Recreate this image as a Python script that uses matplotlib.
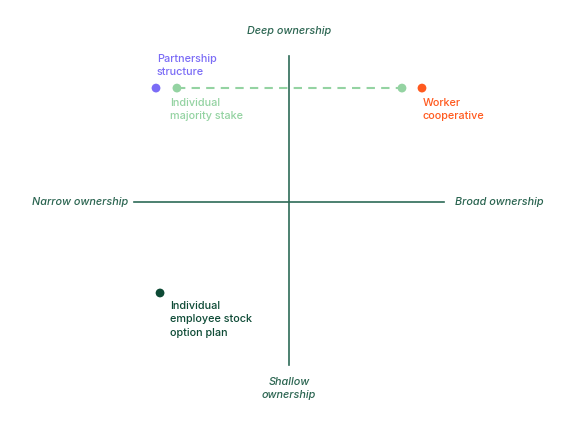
import matplotlib.pyplot as plt

plt.rcParams['font.family'] = ['Inter', 'DejaVu Sans']

# positions on the breadth (x) / depth (y) plane
names = ["Partnership\nstructure", "Individual\nmajority stake", "",
         "Worker\ncooperative", "Individual\nemployee stock\noption plan"]
xs = [-0.858, -0.723, 0.729, 0.858, -0.832]
ys = [0.735, 0.735, 0.735, 0.735, -0.587]
colors = ["#7b6cf6", "#94d3a2", "#94d3a2", "#ff5a1f", "#0d4a35"]
# label offsets in pixels from each dot, and vertical anchor
offsets = [(1, 11), (-7, -10), (0, 0), (1, -10), (10, -8)]
anchors = ['bottom', 'top', 'top', 'top', 'top']

axis_color = "#2e6b57"
text_color = "#2a6450"

fig = plt.figure(figsize=(5.76, 4.24), dpi=100)
ax = fig.add_axes([0, 0, 1, 1])
ax.set_xlim(-1.8645, 1.8516)
ax.set_ylim(-1.4323, 1.3032)
ax.axis('off')

# quadrant axes
ax.plot([-1, 1], [0, 0], color=axis_color, lw=1.2)
ax.plot([0, 0], [-1.052, 0.942], color=axis_color, lw=1.2)

# dashed link between the two majority-stake points
ax.plot([xs[1], xs[2]], [ys[1], ys[2]], color="#94d3a2", lw=1.5, ls=(0, (4, 3)), zorder=2)

ax.scatter(xs, ys, s=40, c=colors, zorder=3, linewidths=0)

for name, x, y, c, off, va in zip(names, xs, ys, colors, offsets, anchors):
    if name:
        ax.annotate(name, (x, y), xytext=off, textcoords='offset pixels',
                    color=c, fontsize=7.8, fontweight='medium', ha='left', va=va,
                    linespacing=1.42)

lab = dict(color=text_color, fontsize=7.8, style='italic', fontweight='medium')
ax.text(0, 1.10, "Deep ownership", ha='center', va='center', **lab)
ax.text(0, -1.13, "Shallow\nownership", ha='center', va='top', linespacing=1.3, **lab)
ax.text(-1.04, 0, "Narrow ownership", ha='right', va='center', **lab)
ax.text(1.07, 0, "Broad ownership", ha='left', va='center', **lab)

fig.savefig("out.png", dpi=100)
